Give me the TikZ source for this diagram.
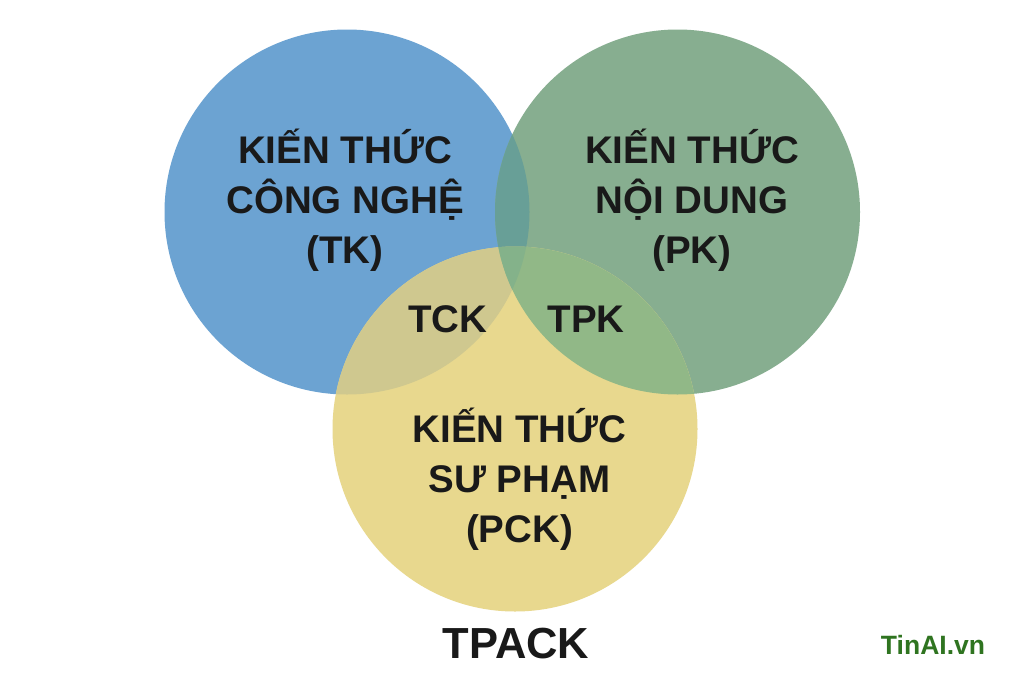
\documentclass[tikz,border=0pt]{standalone}
\usepackage{fontspec}
\setmainfont{Liberation Sans}
\definecolor{lobeblue}{HTML}{6CA3D2}
\definecolor{lobegreen}{HTML}{87AE90}
\definecolor{lobeyellow}{HTML}{E8D88E}
\definecolor{tkpk}{HTML}{689F97}
\definecolor{tkpck}{HTML}{CFC88F}
\definecolor{pkpck}{HTML}{91B887}
\definecolor{lobecentre}{HTML}{84B28A}
\definecolor{logogreen}{HTML}{2F7420}
\begin{document}
\begin{tikzpicture}[x=1pt,y=-1pt,
		lobe/.style={circle,minimum size=#1,inner sep=0pt},
		lobe/.default=365pt,
		label/.style={font=\bfseries\fontsize{38.5}{50}\selectfont,align=center,text=black!90}]
		
		\useasboundingbox (0,0) rectangle (1024,683);
		\fill[white] (0,0) rectangle (1024,683);
		
		%circles
		\foreach \name/\posx/\posy/\farbe in {tk/347/212/lobeblue, pk/677.5/212/lobegreen, pck/515/429/lobeyellow}
		\node[lobe,fill=\farbe] (\name) at (\posx,\posy) {};
		
		%overlaps
		\foreach \eins/\zwei/\farbe in {tk/pk/tkpk, tk/pck/tkpck, pk/pck/pkpck}
		{
			\begin{scope}
				\clip (\eins.center) circle [radius=182.5];
				\fill[\farbe] (\zwei.center) circle [radius=182.5];
			\end{scope}
		}
		\begin{scope}
			\clip (tk.center) circle [radius=182.5];
			\clip (pk.center) circle [radius=182.5];
			\fill[lobecentre] (pck.center) circle [radius=182.5];
		\end{scope}
		
		%labels
		\node[label] (tklabel) at (345,200) {KIẾN THỨC\\CÔNG NGHỆ\\(TK)};
		\node[label] (pklabel) at (692,200) {KIẾN THỨC\\NỘI DUNG\\(PK)};
		\node[label] (pcklabel) at (519.5,479) {KIẾN THỨC\\SƯ PHẠM\\(PCK)};
		\node[label] (tck) at (448,319) {TCK};
		\node[label] (tpk) at (586,319) {TPK};
		
		\node[font=\bfseries\fontsize{43.5}{50}\selectfont,text=black!90] (tpack) at (516,644) {TPACK};
		\node[font=\bfseries\fontsize{26.5}{28}\selectfont,text=logogreen] (logo) at (933,645) {TinAI.vn};
		
		\end{tikzpicture}
\end{document}
